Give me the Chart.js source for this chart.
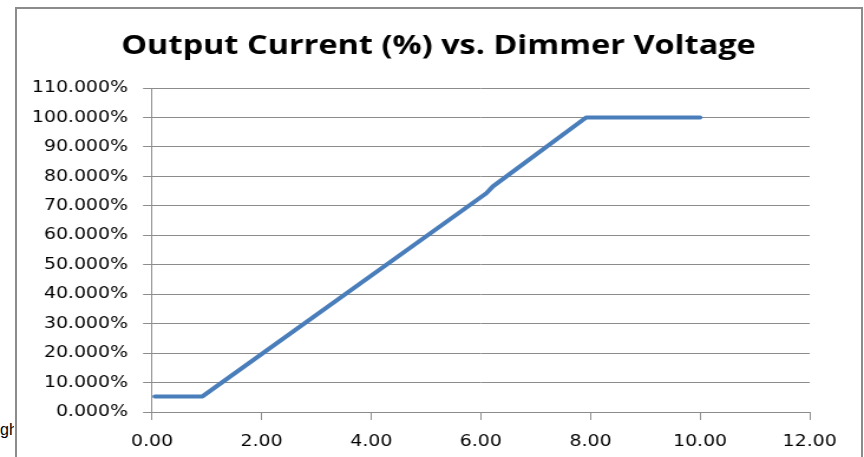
<!DOCTYPE html>
<html>
<head>
<meta charset="utf-8">
<script src="https://cdn.jsdelivr.net/npm/chart.js@4.4.1/dist/chart.umd.min.js"></script>
<style>
  html, body { margin: 0; padding: 0; background: #fff; }
  #wrap { position: relative; width: 864px; height: 457px; overflow: hidden; }
  #frame { position: absolute; left: 15px; top: 7px; width: 848px; height: 470px;
           border: 2px solid #8c8c8c; box-sizing: border-box; }
  #side { position: absolute; left: 0; top: 421px; width: 14px; overflow: hidden;
          font: 16px "Liberation Sans", Arial, sans-serif; color: #000; white-space: nowrap; }
  /* the chart is drawn narrow and stretched sideways, like the old spreadsheet export */
  canvas { position: absolute; left: 0; top: 0; transform-origin: 0 0; transform: scaleX(1.1803); }
</style>
</head>
<body>
<div id="wrap">
  <div id="side">gh</div>
  <div id="frame"></div>
  <canvas id="chart" width="732" height="457"></canvas>
</div>
<script>
// dimmer input voltage (V) and output current (%)
var voltage = [0.05, 0.92, 6.10, 6.22, 7.92, 10.00];
var current = [5.3, 5.3, 74.3, 76.6, 100, 100];

var xTicks = [0, 2, 4, 6, 8, 10, 12];
var yTicks = [0, 10, 20, 30, 40, 50, 60, 70, 80, 90, 100, 110];

var titleText = 'Output Current (%) vs. Dimmer Voltage';

var points = voltage.map(function (v, i) { return { x: v, y: current[i] }; });

var gridGray = '#8c8c8c';

// heading sits centred over the whole frame, not over the canvas padding box
var heading = {
  id: 'heading',
  afterDraw: function (chart) {
    var c = chart.ctx;
    c.save();
    c.fillStyle = '#000';
    c.font = 'bold 27.5px "Open Sans"';
    c.textAlign = 'center';
    c.textBaseline = 'middle';
    c.fillText(titleText, 371.5, 46);
    c.restore();
  }
};

var ctx = document.getElementById('chart').getContext('2d');
var chart = new Chart(ctx, {
  type: 'line',
  data: {
    datasets: [{
      label: 'Output Current',
      data: points,
      borderColor: '#4a7ebb',
      borderWidth: 4,
      borderCapStyle: 'round',
      borderJoinStyle: 'round',
      pointRadius: 0,
      tension: 0,
      fill: false
    }]
  },
  options: {
    responsive: false,
    animation: false,
    layout: { padding: { left: 20, right: 46, top: 88, bottom: 0 } },
    plugins: {
      legend: { display: false },
      tooltip: { enabled: false },
      title: { display: false }
    },
    scales: {
      x: {
        type: 'linear',
        min: 0,
        max: 12,
        afterBuildTicks: function (scale) {
          scale.ticks = xTicks.map(function (v) { return { value: v }; });
        },
        afterFit: function (scale) { scale.height = 45; },
        grid: { drawOnChartArea: false, drawTicks: true, tickLength: 8, color: gridGray },
        border: { color: gridGray, width: 1 },
        ticks: {
          color: '#000',
          padding: 12,
          maxRotation: 0,
          font: { family: 'DejaVu Sans', size: 16 },
          callback: function (v) { return Number(v).toFixed(2); }
        }
      },
      y: {
        type: 'linear',
        min: 0,
        max: 110,
        afterBuildTicks: function (scale) {
          scale.ticks = yTicks.map(function (v) { return { value: v }; });
        },
        afterFit: function (scale) { scale.width = 108.8; },
        grid: { drawTicks: true, tickLength: 7.6, color: gridGray },
        border: { color: gridGray, width: 1 },
        ticks: {
          color: '#000',
          padding: 12.8,
          font: { family: 'DejaVu Sans', size: 16 },
          callback: function (v) { return Number(v).toFixed(3) + '%'; }
        }
      }
    }
  },
  plugins: [heading]
});
</script>
</body>
</html>
